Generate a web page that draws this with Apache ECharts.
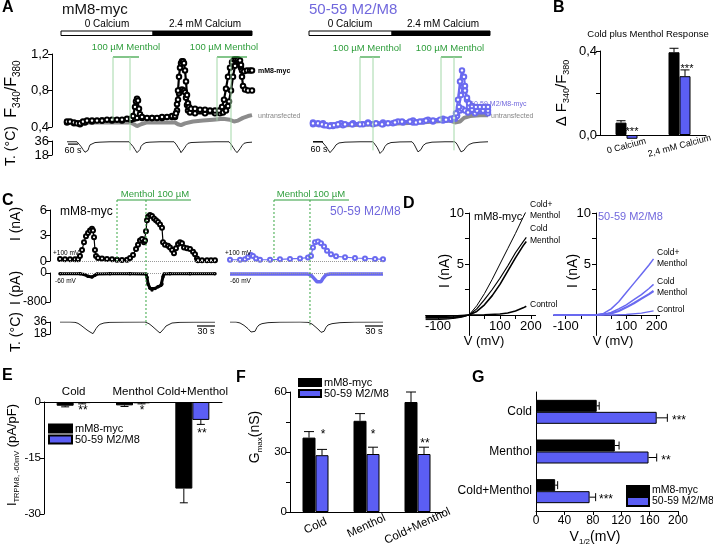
<!DOCTYPE html>
<html>
<head>
<meta charset="utf-8">
<script src="https://cdn.jsdelivr.net/npm/echarts@6.0.0/dist/echarts.min.js"></script>
<style>
html,body{margin:0;padding:0;background:#ffffff;}
#chart{width:713px;height:550px;}
</style>
</head>
<body>
<div id="chart"></div>
<script>
// ================= DATA =================
// Panel A left (mM8-myc): [time s, F340/F380]
const aLeftMyc1 = [[0,.46],[18,.46],[42,.45],[60,.44],[78,.44],[96,.46],[120,.47],[150,.47],[180,.47],[210,.47],[240,.48],[270,.48],[300,.48],[330,.48],[360,.49],[384,.49],[396,.52],[408,.62],[414,.68],[420,.71],[426,.69],[432,.60],[438,.54],[450,.51],[480,.50],[510,.50],[540,.50],[570,.51],[600,.51],[630,.52],[648,.52],[654,.55],[660,.65],[666,.80],[672,.95],[678,1.05],[684,1.10],[690,1.12],[696,1.12],[702,1.10],[708,1.02],[714,.90],[720,.75],[726,.66],[732,.62],[744,.60],[768,.60],[798,.59],[828,.59],[858,.58],[888,.58],[912,.58],[930,.62],[942,.70],[954,.82],[966,.95],[978,1.05],[990,1.11],[1002,1.14],[1014,1.14],[1026,1.14],[1038,1.13],[1044,1.08],[1050,1.02],[1062,1.01],[1080,1.02],[1098,1.02],[1110,1.02]];
const aLeftMyc2 = [[0,.45],[42,.44],[78,.43],[108,.45],[150,.46],[210,.47],[270,.47],[330,.47],[384,.48],[402,.49],[420,.50],[450,.50],[510,.50],[570,.50],[630,.51],[648,.51],[660,.58],[666,.70],[672,.77],[678,.80],[690,.81],[702,.80],[708,.78],[714,.72],[720,.64],[726,.58],[738,.56],[768,.55],[828,.55],[888,.55],[918,.55],[936,.56],[954,.58],[966,.63],[972,.68],[984,.80],[996,.95],[1008,1.07],[1020,1.12],[1032,1.12],[1044,1.05],[1050,.95],[1056,.85],[1068,.81],[1086,.80],[1110,.80]];
const aLeftUntr = [[0,.45],[30,.45],[54,.44],[78,.42],[102,.44],[138,.45],[198,.45],[258,.45],[318,.45],[378,.45],[402,.43],[420,.41],[444,.43],[480,.45],[528,.45],[588,.45],[648,.45],[666,.43],[684,.42],[708,.44],[756,.46],[816,.47],[876,.48],[936,.49],[978,.48],[1002,.46],[1026,.47],[1056,.50],[1086,.52],[1110,.53]];
const aLeftTemp = [[0,35],[60,35],[72,33],[84,29],[96,25],[108,21.5],[114,20],[120,20.5],[126,24],[132,28],[138,31],[150,33],[168,34],[198,34.5],[258,35],[372,35],[384,33],[396,29],[408,25],[420,21],[426,20],[432,21],[438,25],[444,29],[456,32],[474,34],[498,34.5],[558,35],[642,35],[654,32],[666,28],[678,24],[684,21],[690,20],[696,22],[702,26],[714,30],[726,33],[744,34],[798,34.5],[888,35],[972,35],[984,32],[996,28],[1008,24],[1020,21],[1026,20],[1032,22],[1038,26],[1050,30],[1062,33],[1080,34],[1110,34.5]];
// Panel A right (50-59 M2/M8)
const aRightM2a = [[0,.44],[30,.44],[54,.43],[78,.42],[102,.41],[126,.42],[150,.43],[192,.43],[234,.43],[282,.43],[330,.44],[378,.44],[414,.43],[450,.44],[492,.45],[534,.46],[582,.46],[618,.45],[642,.46],[678,.47],[720,.47],[762,.48],[798,.48],[828,.49],[846,.50],[858,.55],[870,.70],[882,.90],[894,1.02],[906,.95],[912,.85],[924,.72],[936,.66],[954,.63],[978,.62],[1002,.62],[1026,.62],[1050,.62]];
const aRightM2b = [[0,.43],[36,.43],[66,.42],[96,.41],[120,.41],[144,.42],[180,.42],[240,.43],[300,.43],[360,.43],[420,.43],[480,.44],[540,.45],[600,.45],[660,.46],[720,.46],[780,.47],[828,.48],[852,.49],[864,.52],[876,.62],[888,.75],[900,.84],[912,.80],[924,.70],[936,.62],[954,.59],[984,.58],[1020,.58],[1050,.58]];
const aRightM2c = [[0,.45],[60,.44],[108,.42],[168,.44],[240,.44],[330,.45],[420,.45],[510,.46],[600,.47],[690,.48],[780,.49],[846,.49],[864,.53],[882,.58],[894,.60],[912,.58],[930,.56],[972,.55],[1050,.55]];
const aRightUntr = [[0,.43],[102,.41],[192,.42],[402,.43],[642,.45],[822,.47],[852,.45],[882,.46],[906,.50],[942,.52],[1002,.53],[1050,.53]];
const aRightTemp = [[0,35],[54,35],[66,33],[78,29],[90,25],[102,21],[108,20.5],[114,22],[126,27],[138,31],[156,33.5],[192,34.5],[282,35],[360,35],[372,33],[384,28],[396,23],[402,20],[408,20],[420,24],[432,29],[444,32],[468,34],[522,34.8],[594,35],[606,32],[618,27],[630,22],[636,21],[648,25],[660,30],[678,33],[714,34.5],[792,35],[852,35],[864,32],[876,27],[888,22],[894,21],[906,24],[918,28],[936,31.5],[960,33.5],[1002,34.5],[1050,35]];
// menthol applications [start, end, second marker] (s)
const mentholALeft = [[276,432,378],[900,1080,984]];
const mentholARight = [[282,402,360],[768,894,846]];
const calciumALeft = [-36,516,1110];
const calciumARight = [-24,474,1062];

// Panel B
const bCats = ['0 Calcium','2,4 mM Calcium'];
const bBlack = [0.059,0.394];
const bBlackErr = [0.068,0.413];
const bBlue = [-0.018,0.28];
const bBlueErr = [null,0.31];

// Panel C (time s)
const cLeftNA = [[0,.25],[8.3,.22],[16.7,.2],[25,.2],[30,.2],[33.3,.6],[36.7,1.3],[40,2.2],[43.3,2.9],[46.7,3.3],[50,3.6],[53.3,3.8],[55,3.6],[56.7,2.8],[58.3,1.3],[60,.6],[63.3,.35],[70,.3],[78.3,.25],[86.7,.2],[95,.15],[103.3,.12],[111.7,.15],[116.7,.35],[121.7,.7],[126.7,1.4],[130,1.9],[133.3,2.4],[136.7,2.6],[140,2.2],[141.7,2.4],[143.3,3.5],[145,4.8],[146.7,5.2],[150,5.4],[153.3,5.3],[156.7,5.0],[160,4.8],[163.3,4.6],[166.7,4.3],[170,3.9],[171.7,2.2],[175,1.9],[180,1.8],[183.3,1.6],[186.7,1.3],[190,.9],[193.3,1.5],[196.7,2.0],[200,2.2],[203.3,2.1],[206.7,1.6],[211.7,1.5],[216.7,1.4],[221.7,1.1],[225,.8],[228.3,.3],[230,.1],[236.7,.1],[245,.1],[251.7,.1],[258.3,.1]];
const cLeftPA = [[0,-20],[33.3,-20],[40,-40],[46.7,-90],[53.3,-110],[58.3,-60],[61.7,-25],[83.3,-20],[116.7,-20],[143.3,-25],[145,-120],[146.7,-300],[150,-420],[153.3,-470],[158.3,-430],[163.3,-380],[168.3,-340],[170,-300],[171.7,-100],[173.3,-30],[183.3,-20],[216.7,-20],[258.3,-20]];
const cLeftTemp = [[0,36],[16.7,36],[25,35.5],[30,34],[35,31],[40,27.5],[45,24],[50,21],[53.3,19],[55,18.5],[56.7,20],[60,26],[63.3,30],[66.7,32.5],[73.3,34.5],[83.3,35.5],[108.3,35.8],[141.7,36],[143.3,35.8],[148.3,33.5],[153.3,30],[158.3,26],[163.3,22],[166.7,19.5],[168.3,18.5],[170,20],[173.3,26],[176.7,30],[180,32.5],[186.7,34.5],[200,35.5],[225,35.8],[258.3,35.8]];
const cRightNA = [[0,.15],[16.7,.15],[25,.2],[30,.45],[35,.7],[38.3,.6],[43.3,.3],[50,.15],[66.7,.15],[83.3,.2],[100,.25],[116.7,.3],[130,.4],[135,.6],[138.3,1.6],[141.7,2.2],[146.7,2.3],[151.7,2.1],[156.7,1.7],[161.7,1.2],[168.3,.8],[176.7,.55],[191.7,.45],[208.3,.35],[225,.3],[241.7,.25],[255,.2]];
const cRightPA = [[0,-30],[130,-30],[135,-60],[140,-150],[145,-240],[151.7,-240],[155,-150],[160,-50],[166.7,-30],[255,-30]];
const cRightTemp = [[0,36],[10,36],[16.7,34.5],[23.3,31],[30,26],[35,21],[38.3,19.5],[41.7,22],[45,28],[48.3,31.5],[53.3,33.5],[63.3,35],[83.3,35.8],[116.7,36],[130,35.5],[136.7,33],[143.3,28],[148.3,24],[151.7,20.5],[153.3,19.5],[156.7,22],[160,28],[163.3,31.5],[170,33.5],[183.3,35],[208.3,35.8],[255,36]];
const mentholCLeft = [95,218.3,143.3];
const mentholCRight = [73.3,198.3,133.3];

// Panel D (mV, nA)
const dLeftCM = [[-140,-.45],[-100,-.45],[-70,-.4],[-40,-.3],[-20,-.2],[0,0],[25,.9],[50,2.1],[75,3.5],[100,5.0],[125,6.5],[150,8.0],[175,9.6],[185,10.2]];
const dLeftCold = [[-140,-.3],[-100,-.3],[-60,-.3],[-30,-.2],[0,0],[25,.6],[50,1.5],[75,2.5],[100,3.6],[125,4.8],[150,6.1],[175,7.2],[185,7.6]];
const dLeftMenthol = [[-140,-.25],[-100,-.25],[-60,-.25],[-30,-.15],[0,0],[25,.35],[50,1.0],[75,1.9],[100,3.0],[125,4.3],[150,5.6],[175,6.8],[185,7.2]];
const dLeftControl = [[-140,-.15],[-100,-.15],[-50,-.1],[0,0],[50,.02],[100,.1],[125,.2],[150,.4],[175,.7],[185,.85]];
const dRightCM = [[-140,0],[0,0],[25,.15],[50,.6],[75,1.3],[100,2.2],[125,3.1],[150,4.0],[175,4.9],[190,5.5]];
const dRightCold = [[-140,0],[0,0],[25,.05],[50,.25],[75,.6],[100,1.0],[125,1.5],[150,2.0],[175,2.6],[190,3.0]];
const dRightMenthol = [[-140,0],[0,0],[50,.15],[75,.4],[100,.75],[125,1.15],[150,1.6],[175,2.05],[190,2.35]];
const dRightControl = [[-140,0],[0,0],[50,0],[100,.05],[150,.18],[190,.4]];

// Panel E
const eCats = ['Cold','Menthol','Cold+Menthol'];
const eBlack = [-1.0,-0.9,-23.2];
const eBlackErr = [-1.3,-1.2,-27.0];
const eBlue = [-0.3,-0.35,-4.8];
const eBlueErr = [-0.5,-0.5,-6.0];
// Panel F
const fCats = ['Cold','Menthol','Cold+Menthol'];
const fBlack = [37.2,45.6,55];
const fBlackErr = [40.2,49.2,60];
const fBlue = [28.4,29,29];
const fBlueErr = [31.3,32.4,32.4];
// Panel G
const gCats = ['Cold','Menthol','Cold+Menthol'];
const gBlack = [85.5,111,27];
const gBlackErr = [89,117,30.5];
const gBlue = [170,158.5,75.5];
const gBlueErr = [185,170,84];

// ================= STYLE =================
const FONT = '"Liberation Sans", Arial, Helvetica, sans-serif';
const BLUE_BAR = '#5b5ef4';
const BLUE_LINE = '#6a6af0';
const PURPLE = '#7168dd';
const GREEN = '#2f9e3c';
const GREEN_LIGHT = '#a3d8a8';
const GRAY = '#8c8c8c';

function merge(t, s) {
  for (const k in s) {
    const v = s[k];
    if (v && typeof v === 'object' && !Array.isArray(v) && t[k] && typeof t[k] === 'object' && !Array.isArray(t[k])) merge(t[k], v);
    else t[k] = v;
  }
  return t;
}
function valAxis(g, min, max, extra) {
  return merge({
    type: 'value', gridIndex: g, min: min, max: max,
    axisLine: {show: true, onZero: false, lineStyle: {color: '#000', width: 1}},
    axisTick: {show: true, length: 4, lineStyle: {color: '#000', width: 1}},
    axisLabel: {show: true, color: '#000', fontSize: 12, fontFamily: FONT, margin: 3},
    splitLine: {show: false}
  }, extra || {});
}
function hidAxis(g, min, max) { return {type: 'value', gridIndex: g, min: min, max: max, show: false}; }
function catAxis(g, data, extra) {
  return merge({
    type: 'category', gridIndex: g, data: data,
    axisLine: {show: true, onZero: false, lineStyle: {color: '#000', width: 1}},
    axisTick: {show: false},
    axisLabel: {show: true, color: '#000', fontSize: 11.5, fontFamily: FONT, margin: 4, interval: 0},
    splitLine: {show: false}
  }, extra || {});
}
const comma = v => v.toFixed(1).replace('.', ',');

const grids = [
  {left: 52, top: 54, width: 200, height: 73},
  {left: 52, top: 141, width: 200, height: 14},
  {left: 313, top: 54, width: 175, height: 73},
  {left: 313, top: 141, width: 175, height: 14},
  {left: 600, top: 51, width: 106, height: 84},
  {left: 50, top: 210, width: 165, height: 51},
  {left: 50, top: 273, width: 165, height: 29},
  {left: 50, top: 322, width: 165, height: 12},
  {left: 230, top: 210, width: 153, height: 51},
  {left: 230, top: 273, width: 153, height: 29},
  {left: 230, top: 322, width: 153, height: 12},
  {left: 425.6, top: 213, width: 110, height: 122.4},
  {left: 553.6, top: 213, width: 106, height: 122.4},
  {left: 44, top: 402, width: 178, height: 112},
  {left: 290, top: 392, width: 153, height: 120},
  {left: 536, top: 392, width: 142, height: 119}
].map(g => Object.assign({containLabel: false, outerBoundsMode: 'none', show: false}, g));

// D panels: axes cross at the origin (moved in from the grid edges by the zero position)
const dXAxisOffset = -(122.4 * 2 / 12);   // y = 0 sits 2 nA above the bottom of the grid
const dLeftYOffset = -(110 * 140 / 355);  // V = 0 inside the left grid
const dRightYOffset = -(106 * 140 / 350); // V = 0 inside the right grid

const xAxes = [
  hidAxis(0, -90, 1110), hidAxis(1, -90, 1110),
  hidAxis(2, 0, 1050), hidAxis(3, 0, 1050),
  catAxis(4, bCats, {axisLine: {onZero: true}, axisLabel: {rotate: 15, fontSize: 9, margin: 11, align: 'center', verticalAlign: 'middle'}}),
  hidAxis(5, -16.667, 258.333), hidAxis(6, -16.667, 258.333), hidAxis(7, -16.667, 258.333),
  hidAxis(8, 0, 255), hidAxis(9, 0, 255), hidAxis(10, 0, 255),
  valAxis(11, -140, 215, {offset: dXAxisOffset, axisTick: {customValues: [-100,-50,0,50,100,150,200]}, axisLabel: {customValues: [-100,100,200], fontSize: 13, margin: 5}}),
  valAxis(12, -140, 210, {offset: dXAxisOffset, axisTick: {customValues: [-100,-50,0,50,100,150,200]}, axisLabel: {customValues: [-100,100,200], fontSize: 13, margin: 5}}),
  catAxis(13, eCats, {position: 'top', axisLabel: {fontSize: 11.5, margin: 4}}),
  catAxis(14, fCats, {axisLabel: {rotate: 25, fontSize: 11.5, margin: 14, align: 'center', verticalAlign: 'middle'}}),
  valAxis(15, 0, 200, {interval: 40, axisLabel: {fontSize: 12, margin: 4}})
];
const yAxes = [
  valAxis(0, 0.4, 1.2, {interval: 0.4, axisLabel: {fontSize: 13, formatter: comma}}),
  valAxis(1, 18, 36, {interval: 18, axisLabel: {fontSize: 13}}),
  hidAxis(2, 0.4, 1.2), hidAxis(3, 18, 36),
  valAxis(4, 0, 0.4, {interval: 0.2, axisLabel: {fontSize: 13, formatter: v => Math.abs(v - 0.2) < 1e-9 ? '' : comma(v)}}),
  valAxis(5, 0, 6, {interval: 3, axisLabel: {fontSize: 13}}),
  valAxis(6, -800, 0, {interval: 800, axisLabel: {fontSize: 12}}),
  valAxis(7, 18, 36, {interval: 18, axisLabel: {fontSize: 12}}),
  hidAxis(8, 0, 6), hidAxis(9, -800, 0), hidAxis(10, 18, 36),
  valAxis(11, -2, 10, {offset: dLeftYOffset, axisTick: {customValues: [0,2.5,5,7.5,10]}, axisLabel: {customValues: [5,10], fontSize: 13, margin: 5}}),
  valAxis(12, -2, 10, {offset: dRightYOffset, axisTick: {customValues: [0,2.5,5,7.5,10]}, axisLabel: {customValues: [5,10], fontSize: 13, margin: 5}}),
  valAxis(13, -30, 0, {interval: 15, axisLabel: {fontSize: 11.5}}),
  valAxis(14, 0, 60, {interval: 15, axisLabel: {fontSize: 11.5, formatter: v => (v % 30 === 0 ? String(v) : '')}}),
  catAxis(15, gCats, {inverse: true, axisLabel: {fontSize: 12, margin: 4}})
];

function line(g, data, o) {
  return merge({type: 'line', xAxisIndex: g, yAxisIndex: g, data: data, symbol: 'none', showSymbol: false,
    silent: true, animation: false, lineStyle: {color: '#000', width: 1}, z: 2}, o || {});
}
const openC = (color, size, lw) => ({symbol: 'emptyCircle', showSymbol: true, symbolSize: size, itemStyle: {color: color, borderWidth: 1}, lineStyle: {color: color, width: lw}});
function bar(g, name, data, color, w) {
  return {type: 'bar', name: name, xAxisIndex: g, yAxisIndex: g, data: data, barWidth: w, barGap: '0%',
    itemStyle: {color: color, borderColor: '#000', borderWidth: 1}, silent: true, clip: false, z: 2, animation: false};
}
function errV(g, vals, ends, side, w, cap) {
  const data = [];
  vals.forEach((v, i) => { if (ends[i] != null) data.push([i, v, ends[i]]); });
  return {type: 'custom', xAxisIndex: g, yAxisIndex: g, data: data, encode: {x: 0, y: [1, 2]}, silent: true, z: 3, clip: false,
    renderItem: (p, api) => {
      const c = api.value(0), a = api.coord([c, api.value(1)]), b = api.coord([c, api.value(2)]);
      const x = a[0] + side * w / 2;
      return {type: 'group', children: [
        {type: 'line', shape: {x1: x, y1: a[1], x2: x, y2: b[1]}, style: {stroke: '#000', lineWidth: 1}},
        {type: 'line', shape: {x1: x - cap / 2, y1: b[1], x2: x + cap / 2, y2: b[1]}, style: {stroke: '#000', lineWidth: 1}}]};
    }};
}
function errH(g, vals, ends, side, w, cap) {
  const data = vals.map((v, i) => [v, i, ends[i]]);
  return {type: 'custom', xAxisIndex: g, yAxisIndex: g, data: data, encode: {x: [0, 2], y: 1}, silent: true, z: 3, clip: false,
    renderItem: (p, api) => {
      const c = api.value(1), a = api.coord([api.value(0), c]), b = api.coord([api.value(2), c]);
      const y = a[1] + side * w / 2;
      return {type: 'group', children: [
        {type: 'line', shape: {x1: a[0], y1: y, x2: b[0], y2: y}, style: {stroke: '#000', lineWidth: 1}},
        {type: 'line', shape: {x1: b[0], y1: y - cap / 2, x2: b[0], y2: y + cap / 2}, style: {stroke: '#000', lineWidth: 1}}]};
    }};
}
const zeroDot = (t0, t1) => ({silent: true, symbol: 'none', label: {show: false}, lineStyle: {color: '#999', type: 'dotted', width: 1}, data: [[{coord: [t0, 0]}, {coord: [t1, 0]}]]});

const series = [
  // A left
  line(0, aLeftUntr, {lineStyle: {color: GRAY, width: 4}}),
  line(0, aLeftMyc2, openC('#000', 4.5, 2.2)),
  line(0, aLeftMyc1, openC('#000', 4.5, 2.2)),
  line(1, aLeftTemp, {lineStyle: {color: '#222', width: 1}}),
  // A right
  line(2, aRightUntr, {lineStyle: {color: GRAY, width: 4}}),
  line(2, aRightM2c, openC(BLUE_LINE, 4.5, 2.2)),
  line(2, aRightM2b, openC(BLUE_LINE, 4.5, 2.2)),
  line(2, aRightM2a, openC(BLUE_LINE, 4.5, 2.2)),
  line(3, aRightTemp, {lineStyle: {color: '#222', width: 1}}),
  // B
  bar(4, 'mM8-myc', bBlack, '#000', 11),
  bar(4, '50-59 M2/M8', bBlue, BLUE_BAR, 11),
  errV(4, bBlack, bBlackErr, -1, 11, 9),
  errV(4, bBlue, bBlueErr, 1, 11, 9),
  // C left
  line(5, cLeftNA, merge(openC('#000', 4, 1.2), {markLine: zeroDot(0, 258.3)})),
  line(6, cLeftPA, {symbol: 'circle', showSymbol: true, symbolSize: 3.5, itemStyle: {color: '#000'}, lineStyle: {color: '#000', width: 3}, markLine: zeroDot(0, 258.3)}),
  line(7, cLeftTemp, {lineStyle: {color: '#222', width: 1}}),
  // C right
  line(8, cRightNA, merge(openC(BLUE_LINE, 4, 1.2), {markLine: zeroDot(0, 255)})),
  line(9, cRightPA, {lineStyle: {color: BLUE_LINE, width: 3.5}, markLine: zeroDot(0, 255)}),
  line(10, cRightTemp, {lineStyle: {color: '#222', width: 1}}),
  // D
  line(11, dLeftControl, {lineStyle: {width: 1.6}}),
  line(11, dLeftMenthol, {lineStyle: {width: 1.6}}),
  line(11, dLeftCold, {lineStyle: {width: 1.2}}),
  line(11, dLeftCM, {lineStyle: {width: 1}}),
  line(12, dRightControl, {lineStyle: {color: BLUE_LINE, width: 1.3}}),
  line(12, dRightMenthol, {lineStyle: {color: BLUE_LINE, width: 2.2}}),
  line(12, dRightCold, {lineStyle: {color: BLUE_LINE, width: 1.5}}),
  line(12, dRightCM, {lineStyle: {color: BLUE_LINE, width: 1.5}}),
  // E
  bar(13, 'mM8-myc', eBlack, '#000', 17),
  bar(13, '50-59 M2/M8', eBlue, BLUE_BAR, 17),
  errV(13, eBlack, eBlackErr, -1, 17, 8),
  errV(13, eBlue, eBlueErr, 1, 17, 8),
  // F
  bar(14, 'mM8-myc', fBlack, '#000', 13),
  bar(14, '50-59 M2/M8', fBlue, BLUE_BAR, 13),
  errV(14, fBlack, fBlackErr, -1, 13, 10),
  errV(14, fBlue, fBlueErr, 1, 13, 10),
  // G
  bar(15, 'mM8-myc', gBlack, '#000', 12),
  bar(15, '50-59 M2/M8', gBlue, BLUE_BAR, 12),
  errH(15, gBlack, gBlackErr, -1, 12, 8),
  errH(15, gBlue, gBlueErr, 1, 12, 8)
];

const legendBase = {orient: 'vertical', icon: 'rect', selectedMode: false, padding: 0, itemGap: 0,
  data: ['mM8-myc', '50-59 M2/M8']};
const legTxt = s => ({fontSize: s, fontFamily: FONT, color: '#000', padding: [0, 0, 0, -2]});
const legends = [
  Object.assign({}, legendBase, {left: 48, top: 423, itemWidth: 23, itemHeight: 8, textStyle: legTxt(11)}),
  Object.assign({}, legendBase, {left: 298, top: 377, itemWidth: 22, itemHeight: 7, textStyle: legTxt(11)}),
  Object.assign({}, legendBase, {left: 626, top: 485, itemWidth: 22, itemHeight: 9, textStyle: legTxt(10.5)})
];

const chart = echarts.init(document.getElementById('chart'), null, {renderer: 'canvas', width: 713, height: 550});
chart.setOption({
  animation: false,
  backgroundColor: '#ffffff',
  textStyle: {fontFamily: FONT},
  tooltip: {show: false},
  grid: grids, xAxis: xAxes, yAxis: yAxes, series: series, legend: legends
});

// ================= ANNOTATIONS =================
function T(x, y, text, size, opt) {
  opt = opt || {};
  const st = {text: text, fill: opt.fill || '#000', fontSize: size, fontFamily: FONT, fontWeight: opt.weight || 'normal',
    align: opt.align || 'left', verticalAlign: 'middle'};
  if (opt.rich) st.rich = opt.rich;
  return {type: 'text', x: x, y: y, rotation: opt.rot || 0, silent: true, z: 20, style: st};
}
function subRich(big, small) {
  return {
    b: {fontSize: big, fontFamily: FONT, fill: '#000', color: '#000', lineHeight: big + 4, verticalAlign: 'middle'},
    s: {fontSize: small, fontFamily: FONT, fill: '#000', color: '#000', lineHeight: small, verticalAlign: 'bottom'}
  };
}
const ROT = Math.PI / 2;
const px = (g, x, y) => chart.convertToPixel({gridIndex: g}, [x, y]);
function L(p1, p2, stroke, w, dash) {
  return {type: 'line', silent: true, z: 15, shape: {x1: p1[0], y1: p1[1], x2: p2[0], y2: p2[1]}, style: {stroke: stroke, lineWidth: w, lineDash: dash || null}};
}
const els = [];
// panel letters
[['A', 2, 8], ['B', 553, 8], ['C', 2, 201], ['D', 403, 204], ['E', 2, 376], ['F', 236, 378], ['G', 472, 378]].forEach(d => els.push(T(d[1], d[2], d[0], 16, {weight: 'bold'})));
// Panel A texts
els.push(T(62, 10, 'mM8-myc', 15, {fill: '#111'}));
els.push(T(309, 10, '50-59 M2/M8', 15, {fill: PURPLE}));
els.push(T(107, 24, '0 Calcium', 10, {align: 'center'}));
els.push(T(205, 24, '2.4 mM Calcium', 10, {align: 'center'}));
els.push(T(350, 24, '0 Calcium', 10, {align: 'center'}));
els.push(T(443, 24, '2.4 mM Calcium', 10, {align: 'center'}));
els.push(T(126, 47, '100 \u00b5M Menthol', 9.5, {align: 'center', fill: GREEN}));
els.push(T(224, 47, '100 \u00b5M Menthol', 9.5, {align: 'center', fill: GREEN}));
els.push(T(367, 48, '100 \u00b5M Menthol', 9.5, {align: 'center', fill: GREEN}));
els.push(T(450, 48, '100 \u00b5M Menthol', 9.5, {align: 'center', fill: GREEN}));
els.push(T(258, 71, 'mM8-myc', 7, {weight: 'bold'}));
els.push(T(258, 116, 'untransfected', 7, {fill: '#888'}));
els.push(T(470, 104, '50-59 M2/M8-myc', 7, {fill: PURPLE}));
els.push(T(491, 116, 'untransfected', 7, {fill: '#888'}));
els.push(T(12, 89, '{b|F}{s|340}{b|/F}{s|380}', 16, {rot: ROT, align: 'center', rich: subRich(16, 10)}));
els.push(T(11, 146, 'T. (\u00b0C)', 14, {rot: ROT, align: 'center'}));
els.push(T(73, 151, '60 s', 9, {align: 'center'}));
els.push(T(319, 150, '60 s', 9, {align: 'center'}));
// Panel B texts
els.push(T(648, 34, 'Cold plus Menthol Response', 9.5, {align: 'center'}));
els.push(T(562, 93, '{b|\u0394 F}{s|340}{b|/F}{s|380}', 15, {rot: ROT, align: 'center', rich: subRich(15, 9)}));
els.push(T(632, 132, '***', 11, {align: 'center'}));
els.push(T(687, 69, '***', 11, {align: 'center'}));
// Panel C texts
els.push(T(16, 224, 'I (nA)', 14, {rot: ROT, align: 'center'}));
els.push(T(16, 288, 'I (pA)', 14, {rot: ROT, align: 'center'}));
els.push(T(16, 332, 'T. (\u00b0C)', 14, {rot: ROT, align: 'center'}));
els.push(T(60, 212, 'mM8-myc', 12));
els.push(T(330, 212, '50-59 M2/M8', 12, {fill: PURPLE}));
els.push(T(53, 253, '+100 mV', 6.5));
els.push(T(55, 281, '-60 mV', 6.5));
els.push(T(225, 253, '+100 mV', 6.5));
els.push(T(230, 281, '-60 mV', 6.5));
els.push(T(155, 194, 'Menthol 100 \u00b5M', 9.5, {align: 'center', fill: GREEN}));
els.push(T(311, 194, 'Menthol 100 \u00b5M', 9.5, {align: 'center', fill: GREEN}));
els.push(T(206, 332, '30 s', 9, {align: 'center'}));
els.push(T(374, 332, '30 s', 9, {align: 'center'}));
// Panel D texts
els.push(T(445, 271, 'I (nA)', 14, {rot: ROT, align: 'center'}));
els.push(T(573, 271, 'I (nA)', 14, {rot: ROT, align: 'center'}));
els.push(T(484, 341, 'V (mV)', 13, {align: 'center'}));
els.push(T(613, 341, 'V (mV)', 13, {align: 'center'}));
els.push(T(474, 217, 'mM8-myc', 11));
els.push(T(598, 217, '50-59 M2/M8', 11, {fill: PURPLE}));
[['Cold+', 205], ['Menthol', 216], ['Cold', 229], ['Menthol', 241], ['Control', 305]].forEach(d => els.push(T(530, d[1], d[0], 8.5)));
[['Cold+', 253], ['Menthol', 264], ['Cold', 282], ['Menthol', 293], ['Control', 310]].forEach(d => els.push(T(657, d[1], d[0], 8.5)));
// Panel E/F/G texts
els.push(T(12, 455, '{b|I}{s|TRPM8, -60mV}{b| (pA/pF)}', 13, {rot: ROT, align: 'center', rich: subRich(13, 7.5)}));
els.push(T(83, 411, '**', 12, {align: 'center'}));
els.push(T(142, 411, '*', 12, {align: 'center'}));
els.push(T(202, 434, '**', 12, {align: 'center'}));
els.push(T(255, 437, '{b|G}{s|max}{b|(nS)}', 14, {rot: ROT, align: 'center', rich: subRich(14, 8)}));
els.push(T(323, 435, '*', 12, {align: 'center'}));
els.push(T(373, 435, '*', 12, {align: 'center'}));
els.push(T(425, 444, '**', 12, {align: 'center'}));
els.push(T(595, 537, '{b|V}{s|1/2}{b|(mV)}', 14, {align: 'center', rich: subRich(14, 8)}));
els.push(T(679, 421, '***', 12, {align: 'center'}));
els.push(T(666, 461, '**', 12, {align: 'center'}));
els.push(T(606, 500, '***', 12, {align: 'center'}));

// calcium bars (panel A), from time axis
function calcium(g, c) {
  const x0 = px(g, c[0], 1)[0], x1 = px(g, c[1], 1)[0], x2 = px(g, c[2], 1)[0];
  els.push({type: 'rect', silent: true, z: 15, shape: {x: x0, y: 31, width: x1 - x0, height: 4.5}, style: {fill: '#fff', stroke: '#000', lineWidth: 1}});
  els.push({type: 'rect', silent: true, z: 15, shape: {x: x1, y: 31, width: x2 - x1, height: 4.5}, style: {fill: '#000', stroke: '#000', lineWidth: 1}});
}
calcium(0, calciumALeft);
calcium(2, calciumARight);
// menthol markers
function menthol(gF, gT, m, yTop, fVal, tVal, dash, vcol) {
  const xs = px(gF, m[0], fVal)[0], xe = px(gF, m[1], fVal)[0], x2 = px(gF, m[2], fVal)[0];
  const yF = px(gF, m[0], fVal)[1], yT = px(gT, m[2], tVal)[1];
  els.push(L([xs, yTop], [xe, yTop], GREEN, 1.2));
  els.push(L([xs, yTop], [xs, yF], vcol, 1, dash));
  els.push(L([x2, yTop], [x2, yT], vcol, 1, dash));
}
mentholALeft.forEach(m => menthol(0, 1, m, 57, 0.47, 24, null, GREEN_LIGHT));
mentholARight.forEach(m => menthol(2, 3, m, 57, 0.45, 24, null, GREEN_LIGHT));
menthol(5, 7, mentholCLeft, 200, 0, 31, [2, 2], '#3aa845');
menthol(8, 10, mentholCRight, 200, 0, 31, [2, 2], '#3aa845');
// time scale bars
els.push(L(px(1, 6, 32), px(1, 66, 32), '#000', 1.2));
els.push(L(px(3, 0, 35), px(3, 60, 35), '#000', 1.2));
els.push(L(px(7, 228.3, 30), px(7, 258.3, 30), '#000', 1.2));
els.push(L(px(10, 225, 30), px(10, 255, 30), '#000', 1.2));

chart.setOption({graphic: {elements: els}});
</script>
</body>
</html>
